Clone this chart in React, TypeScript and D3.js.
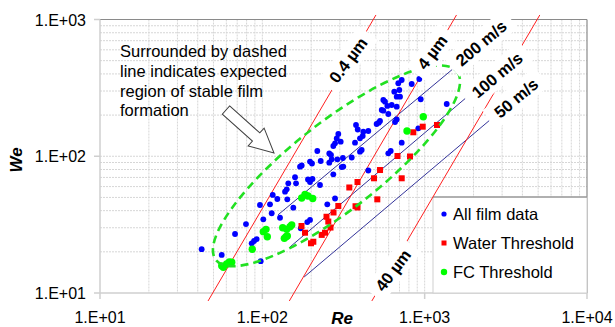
import React from "react";
import * as d3 from "d3";

const W = 615;
const H = 327;

const reTicks = [10, 100, 1000, 10000];
const weTicks = [10, 100, 1000];

// All film data (blue)
const allFilmRe = [42.3, 56.2, 67.9, 79.3, 86.0, 88.9, 92.3, 96.7, 97.7, 101.4, 111.5, 114.2, 115.9, 123.7, 128.5, 142.5, 138.0, 141.3, 144.5, 159.0, 161.3, 155.2, 170.7, 174.8, 191.1, 196.7, 203.7, 196.7, 202.3, 226.6, 251.3, 273.7, 280.4, 308.3, 315.3, 172.4, 189.2, 196.7, 449.6, 377.6, 386.8, 521.2, 530.9, 672.6, 656.6, 293.8, 287.2, 280.4, 273.7, 303.9, 372.3, 415.3, 399.6, 449.6, 218.1, 258.5, 264.8, 228.9, 258.5, 267.6, 289.7, 355.3, 399.6, 409.3, 597.0, 617.8, 722.1, 913.9, 722.1, 688.0, 926.8, 832.2, 650.0, 698.0, 705.0, 672.6, 945.4, 556.3, 569.9, 588.8, 626.6, 543.9, 556.3, 672.6, 597.0, 1367, 505.8, 418.8, 313.5];
const allFilmWe = [20.9, 19.0, 27.0, 31.9, 23.1, 24.0, 24.8, 44.0, 17.1, 34.6, 44.5, 38.3, 52.1, 48.7, 35.5, 48.4, 55.1, 57.3, 63.4, 70.2, 63.4, 42.1, 83.9, 85.6, 67.6, 64.8, 68.2, 91.5, 88.5, 61.6, 44.5, 73.8, 49.1, 83.4, 84.1, 29.7, 33.0, 34.2, 78.7, 169.3, 156.9, 175.9, 181.0, 185.7, 178.0, 145.4, 134.8, 124.3, 118.8, 127.8, 125.6, 140.6, 135.3, 153.0, 109.2, 104.7, 102.1, 92.3, 89.7, 95.0, 95.0, 97.9, 108.0, 111.1, 105.1, 109.2, 125.6, 160.1, 361.2, 341.7, 367.3, 337.6, 296.5, 305.2, 272.6, 272.6, 261.0, 257.8, 250.6, 233.2, 237.1, 217.9, 215.4, 230.4, 203.7, 241.1, 172.1, 151.2, 97.1];

// Water threshold (red squares)
const waterRe = [851.1, 972.7, 1191, 680.2, 812.3, 530.9, 487.5, 385.7, 343.4, 722.1, 510.8, 375.0, 385.7, 293.8, 274.5, 248.5, 254.9, 263.0, 174.3, 183.2, 199.4, 206.1, 232.2, 243.3];
const waterWe = [149.7, 164.5, 169.3, 100.4, 99.6, 79.3, 69.0, 64.8, 59.1, 69.0, 48.4, 43.1, 42.2, 43.3, 38.8, 36.1, 33.3, 30.1, 30.9, 27.6, 23.1, 23.7, 26.6, 27.6];

// FC threshold (green)
const fcRe = [980.8, 778.4, 183.2, 174.8, 204.3, 191.1, 62.6, 64.8, 60.3, 56.2, 57.5, 86.7, 101.4, 105.3, 107.3, 133.5, 141.3, 148.1, 151.7, 136.6, 139.9, 142.5];
const fcWe = [194.6, 153.0, 52.5, 49.5, 49.1, 51.2, 16.9, 16.8, 16.3, 15.8, 15.4, 20.9, 28.1, 29.2, 25.8, 30.0, 29.2, 30.5, 31.4, 25.1, 25.8, 26.1];

// Constant velocity lines (navy)
const velocityLabels = ["200 m/s", "100 m/s", "50 m/s"];
const velocityRe0 = [125, 148, 181];
const velocityWe0 = [37.3, 21.7, 13.1];
const velocityRe1 = [1476, 1775, 2496];
const velocityWe1 = [430, 264, 182];
const velocityLabelRe = [2223, 2790, 3653];
const velocityLabelWe = [673, 392.6, 266.7];

// Constant diameter lines (red)
const diameterLabels = ["0.4 µm", "4 µm", "40 µm"];
const diameterRe0 = [46.3, 146.6, 472.6];
const diameterRe1 = [501, 1571, 5121];
const diameterWe0 = [8.74, 8.74, 8.74];
const diameterWe1 = [1079, 1079, 1079];
const diameterLabelRe = [337.2, 1110, 638];
const diameterLabelWe = [505.6, 578, 14.7];

// Annotation
const noteLines = ["Surrounded by dashed", "line indicates expected", "region of stable film", "formation"];
const arrowFrom = [59.7, 217.9];
const arrowTo = [118.0, 105.6];
const regionCenter = [286.3, 85.1];

const legendLabels = ["All film data", "Water Threshold", "FC Threshold"];

const FONT = "'Liberation Sans', Arial, sans-serif";

function measure(text: string, font: string) {
  const c = document.createElement("canvas").getContext("2d");
  if (!c) return text.length * 9;
  c.font = font;
  return c.measureText(text).width;
}

const tickLabel = (v: number) => "1.E+" + String(Math.round(Math.log10(v))).padStart(2, "0");

export default function App() {
  const left = 100, right = 587, top = 19.5, bottom = 293;
  const x = d3.scaleLog().domain([10, 10000]).range([left, right]);
  const y = d3.scaleLog().domain([10, 1000]).range([bottom, top]);

  const minorX: number[] = [];
  [10, 100, 1000].forEach((d) => { for (let m = 2; m <= 9; m++) minorX.push(d * m); });
  const minorY: number[] = [];
  [10, 100].forEach((d) => { for (let m = 2; m <= 9; m++) minorY.push(d * m); });

  const line = d3.line<[number, number]>().x((d) => x(d[0])).y((d) => y(d[1]));

  // arrow
  const ax0 = x(arrowFrom[0]), ay0 = y(arrowFrom[1]);
  const ax1 = x(arrowTo[0]), ay1 = y(arrowTo[1]);
  const aAng = (Math.atan2(ay1 - ay0, ax1 - ax0) * 180) / Math.PI;
  const aLen = Math.hypot(ax1 - ax0, ay1 - ay0);
  const sw = 5.5, hw = 12, hl = 24;
  const arrowPts = [[0, -sw], [aLen - hl, -sw], [aLen - hl, -hw], [aLen, 0], [aLen - hl, hw], [aLen - hl, sw], [0, sw]].map((p) => p.join(",")).join(" ");

  const labelFont = `bold 16.5px ${FONT}`;

  const renderLabel = (text: string, cx: number, cy: number, ang: number, key: string) => {
    const w = measure(text, labelFont);
    return (
      <g key={key} transform={`translate(${cx},${cy}) rotate(${ang})`}>
        <rect x={-w / 2 - 8} y={-12} width={w + 16} height={24} fill="#fff" />
        <text x={0} y={6} textAnchor="middle" fontFamily={FONT} fontWeight="bold" fontSize={16.5} fill="#000">{text}</text>
      </g>
    );
  };

  return (
    <svg width={W} height={H} style={{ position: "absolute", left: 0, top: 0, background: "#fff" }} xmlns="http://www.w3.org/2000/svg">
      <rect x={0} y={0} width={W} height={H} fill="#fff" />
      {/* gridlines */}
      <g stroke="#d6d6d6" strokeWidth={1} strokeDasharray="2,1">
        {minorX.map((v) => (<line key={"mx" + v} x1={x(v)} x2={x(v)} y1={top} y2={bottom} />))}
        {[100, 1000].map((v) => (<line key={"Mx" + v} x1={x(v)} x2={x(v)} y1={top} y2={bottom} />))}
        {minorY.map((v) => (<line key={"my" + v} x1={left} x2={right} y1={y(v)} y2={y(v)} />))}
        {[100].map((v) => (<line key={"My" + v} x1={left} x2={right} y1={y(v)} y2={y(v)} />))}
      </g>
      {/* frame */}
      <line x1={left} x2={right} y1={top} y2={top} stroke="#8a8a8a" strokeWidth={1.2} />
      <line x1={right} x2={right} y1={top} y2={bottom} stroke="#8a8a8a" strokeWidth={1.2} />
      <line x1={left} x2={left} y1={top} y2={bottom} stroke="#cfcfcf" strokeWidth={1.5} />
      <line x1={left} x2={right} y1={bottom} y2={bottom} stroke="#cfcfcf" strokeWidth={1.5} />
      {weTicks.map((v) => (<line key={"yt" + v} x1={left - 6} x2={left} y1={y(v)} y2={y(v)} stroke="#cfcfcf" strokeWidth={1.5} />))}
      {reTicks.map((v) => (<line key={"xt" + v} x1={x(v)} x2={x(v)} y1={bottom} y2={bottom + 6} stroke="#cfcfcf" strokeWidth={1.5} />))}

      {/* legend box */}
      <rect x={433} y={197} width={right - 433} height={bottom - 197} fill="#fff" stroke="#d0d0d0" />
      <line x1={433} x2={right} y1={197} y2={197} stroke="#7a7a7a" strokeWidth={1} />

      {/* velocity lines */}
      {velocityLabels.map((l, i) => (
        <path key={"v" + i} d={line([[velocityRe0[i], velocityWe0[i]], [velocityRe1[i], velocityWe1[i]]]) || ""} stroke="#333399" strokeWidth={1} fill="none" />
      ))}
      {/* diameter lines */}
      {diameterLabels.map((l, i) => (
        <path key={"d" + i} d={line([[diameterRe0[i], diameterWe0[i]], [diameterRe1[i], diameterWe1[i]]]) || ""} stroke="#ff2020" strokeWidth={1} fill="none" />
      ))}

      {/* points */}
      {allFilmRe.map((r, i) => (<circle key={"b" + i} cx={x(r)} cy={y(allFilmWe[i])} r={2.9} fill="#0000ff" />))}
      {waterRe.map((r, i) => (<rect key={"r" + i} x={x(r) - 3} y={y(waterWe[i]) - 3} width={6} height={6} fill="#ff0000" />))}
      {fcRe.map((r, i) => (<circle key={"g" + i} cx={x(r)} cy={y(fcWe[i])} r={3.7} fill="#00ff00" />))}

      {/* dashed region */}
      <ellipse cx={x(regionCenter[0])} cy={y(regionCenter[1])} rx={153} ry={44} transform={`rotate(-38 ${x(regionCenter[0])} ${y(regionCenter[1])})`} fill="none" stroke="#22e022" strokeWidth={2.6} strokeDasharray="8,5" />

      {/* arrow */}
      <polygon points={arrowPts} transform={`translate(${ax0},${ay0}) rotate(${aAng})`} fill="#fff" stroke="#404040" strokeWidth={1} />

      {/* note */}
      <text fontFamily={FONT} fontSize={16.5} fill="#000">
        {noteLines.map((t, i) => (<tspan key={i} x={120} y={57 + i * 19.8}>{t}</tspan>))}
      </text>

      {/* labels */}
      {diameterLabels.map((t, i) => renderLabel(t, x(diameterLabelRe[i]), y(diameterLabelWe[i]), -53, "dl" + i))}
      {velocityLabels.map((t, i) => renderLabel(t, x(velocityLabelRe[i]), y(velocityLabelWe[i]), -40, "vl" + i))}

      {/* legend */}
      {legendLabels.map((t, i) => {
        const cy = 214 + i * 29;
        return (
          <g key={"lg" + i}>
            {i === 0 && <circle cx={444} cy={cy} r={2.6} fill="#0000ff" />}
            {i === 1 && <rect x={441.5} y={cy - 2.5} width={5} height={5} fill="#ff0000" />}
            {i === 2 && <circle cx={444} cy={cy} r={3.2} fill="#00ff00" />}
            <text x={453} y={cy + 6} fontFamily={FONT} fontSize={16.5} fill="#000">{t}</text>
          </g>
        );
      })}

      {/* tick labels */}
      {weTicks.map((v) => (<text key={"yl" + v} x={86} y={y(v) + 6} textAnchor="end" fontFamily={FONT} fontSize={16} fill="#000">{tickLabel(v)}</text>))}
      {reTicks.map((v) => (<text key={"xl" + v} x={x(v)} y={323} textAnchor="middle" fontFamily={FONT} fontSize={16} fill="#000">{tickLabel(v)}</text>))}

      {/* axis titles */}
      <text x={342} y={324} textAnchor="middle" fontFamily={FONT} fontSize={17} fontWeight="bold" fontStyle="italic">Re</text>
      <text transform="translate(22,160) rotate(-90)" textAnchor="middle" fontFamily={FONT} fontSize={17} fontWeight="bold" fontStyle="italic">We</text>
    </svg>
  );
}
